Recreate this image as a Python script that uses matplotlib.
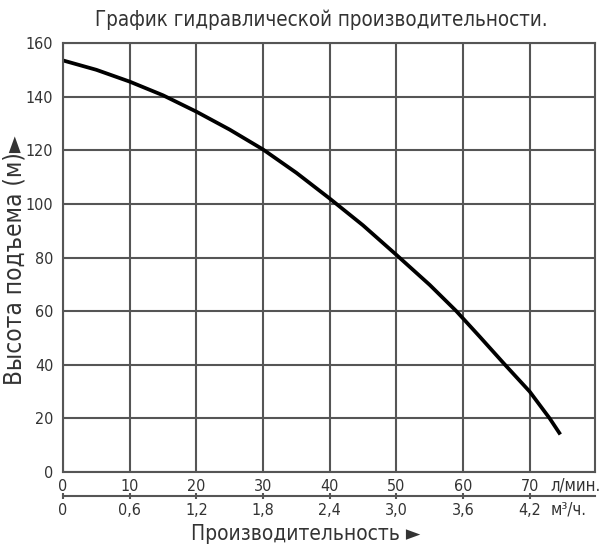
import matplotlib
matplotlib.use("Agg")
import matplotlib.pyplot as plt
from matplotlib.ticker import FuncFormatter

# Данные кривой
flow_lpm = [0, 5, 10, 15, 20, 25, 30, 35, 40, 45, 50, 55, 59, 62.5, 66.3, 70, 73.0, 74.6]
head_m = [153.5, 150, 145.6, 140.5, 134.4, 127.7, 120.3, 111.6, 102, 92, 81, 69.8, 60,
          50.5, 40, 30, 20, 14]

lpm_ticks = [0, 10, 20, 30, 40, 50, 60, 70]
m3h_ticks = [0, 0.6, 1.2, 1.8, 2.4, 3.0, 3.6, 4.2]
y_ticks = [0, 20, 40, 60, 80, 100, 120, 140, 160]

plt.rcParams['font.family'] = ['DejaVu Sans']
plt.rcParams['font.stretch'] = 'condensed'

W, H = 606, 556
fig = plt.figure(figsize=(W / 100, H / 100), dpi=100)
ax = fig.add_axes([63 / W, 1 - 472 / H, 532 / W, 429 / H])

txt_col = '#333333'
grid_col = '#555555'
ax.set_xlim(0, 79.8)
ax.set_ylim(0, 160)
ax.set_xticks(lpm_ticks)
ax.set_yticks(y_ticks)
ax.grid(True, color=grid_col, linewidth=1.5)
for s in ax.spines.values():
    s.set_color(grid_col)
    s.set_linewidth(1.5)

ax.plot(flow_lpm, head_m, color='black', linewidth=2.7, solid_capstyle='butt')

ax.tick_params(axis='both', length=0, labelsize=11.5, labelcolor=txt_col)
ax.tick_params(axis='x', pad=5)
ax.tick_params(axis='y', pad=7)

# вторая шкала в м³/ч
sec = ax.secondary_xaxis(-0.056, functions=(lambda x: x * 0.06, lambda x: x / 0.06))
sec.set_xticks(m3h_ticks)
sec.xaxis.set_major_formatter(FuncFormatter(lambda v, p: ('%.1f' % v).replace('.', ',') if v else '0'))
sec.tick_params(length=4, width=1.5, direction='inout', labelsize=11.5,
                labelcolor=txt_col, color=grid_col, pad=3)
sec.spines['bottom'].set_color(grid_col)
sec.spines['bottom'].set_linewidth(1.5)

fig.text(550 / W, 1 - 486 / H, 'л/мин.', ha='left', va='center', fontsize=12, color=txt_col)
fig.text(551 / W, 1 - 509 / H, 'м³/ч.', ha='left', va='center', fontsize=12, color=txt_col)

fig.text(321 / W, 1 - 20 / H, 'График гидравлической производительности.', ha='center',
         va='center', fontsize=14.8, color=txt_col)
fig.text(15 / W, 1 - 260 / H, 'Высота подъема (м)►', rotation=90, ha='center', va='center',
         fontsize=17.5, color=txt_col)
fig.text(306 / W, 1 - 534 / H, 'Производительность ►', ha='center', va='center',
         fontsize=15, color=txt_col)

fig.savefig('out.png', dpi=100)
